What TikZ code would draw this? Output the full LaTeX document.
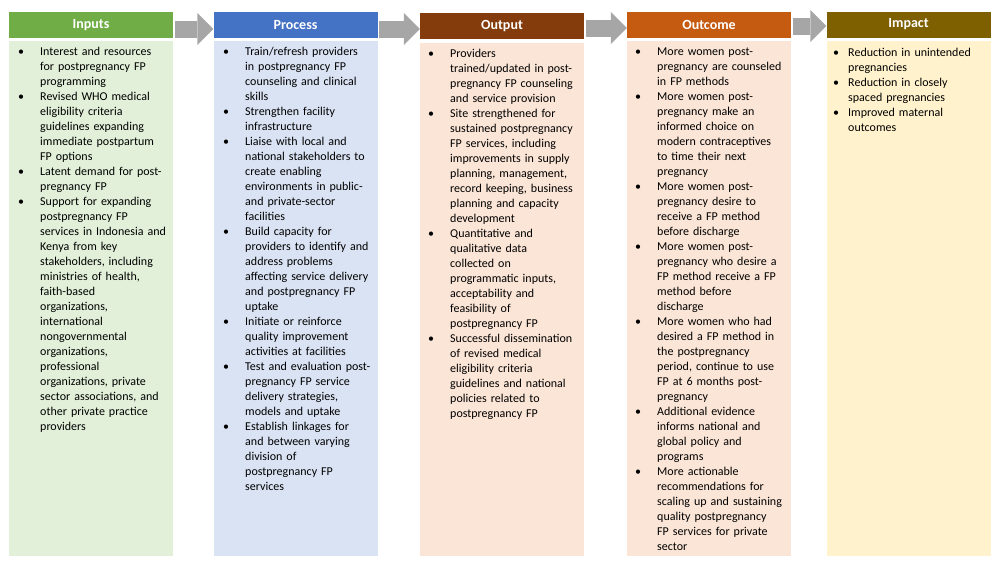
\documentclass[tikz,border=0pt]{standalone}
\usepackage{fontspec}
\setmainfont{Carlito}
\usetikzlibrary{arrows.meta}
\definecolor{inhead}{HTML}{70AD47}
\definecolor{inbody}{HTML}{E2F0D9}
\definecolor{prohead}{HTML}{4472C4}
\definecolor{probody}{HTML}{DAE3F3}
\definecolor{outhead}{HTML}{843C0C}
\definecolor{outbody}{HTML}{FBE5D6}
\definecolor{ochead}{HTML}{C55A11}
\definecolor{imhead}{HTML}{7F6000}
\definecolor{imbody}{HTML}{FFF2CC}
\definecolor{arrgray}{HTML}{A6A6A6}
\newlength\bulind
\setlength\bulind{22pt}
\newcommand\bul[1]{\par\noindent\hangindent=\bulind\hangafter=1\hbox to\bulind{\strut\textbullet\hfil}#1\par}

\begin{document}
\begin{tikzpicture}[x=1pt,y=-1pt]%
        \useasboundingbox (0,0) rectangle (1000,566); %%
        %\draw[step=50,color=gray,very thin] (0,0) grid (1000,566);%%
        \begin{scope}[inner sep=0pt, minimum height=26pt, minimum width=164pt]
        \tikzstyle{every node}=[text=white,font=\fontsize{14}{16}\selectfont\bfseries] %%
        \node[fill=inhead] (h1) at (91,25)  {Inputs}; %%
        \node[fill=prohead] (h2) at (295.5,25)  {Process}; %%
        \node[fill=outhead] (h3) at (502,26)  {Output}; %%
        \node[fill=ochead] (h4) at (709,25)  {Outcome}; %%
        \node[fill=imhead] (h5) at (908.5,24.5)  {Impact}; %%
        \end{scope}
        \begin{scope}[inner sep=0pt, minimum height=515pt, minimum width=164pt]
        \tikzstyle{every node}=[] %%
        \node[fill=inbody] (b1) at (91,298.5)  {}; %%
        \node[fill=probody] (b2) at (295.5,298.5)  {}; %%
        \node[fill=outbody,minimum height=513pt] (b3) at (502,299.5)  {}; %%
        \node[fill=outbody] (b4) at (709,298.5)  {}; %%
        \node[fill=imbody] (b5) at (908.5,298.5)  {}; %%
        \end{scope}
        \begin{scope}[inner sep=0pt]
        \tikzstyle{every node}=[anchor=north west,text width=158pt,align=left,font=\fontsize{12}{15}\selectfont] %%
        \node (t1) at (18,40)  {%
          \bul{Interest and resources\newline for postpregnancy FP\newline programming}%
          \bul{Revised WHO medical\newline eligibility criteria\newline guidelines expanding\newline immediate postpartum\newline FP options}%
          \bul{Latent demand for post-\newline pregnancy FP}%
          \bul{Support for expanding\newline postpregnancy FP\newline services in Indonesia and\newline Kenya from key\newline stakeholders, including\newline ministries of health,\newline faith-based\newline organizations,\newline international\newline nongovernmental\newline organizations,\newline professional\newline organizations, private\newline sector associations, and\newline other private practice\newline providers}}; %%
        \node (t2) at (223,40)  {%
          \bul{Train/refresh providers\newline in postpregnancy FP\newline counseling and clinical\newline skills}%
          \bul{Strengthen facility\newline infrastructure}%
          \bul{Liaise with local and\newline national stakeholders to\newline create enabling\newline environments in public-\newline and private-sector\newline facilities}%
          \bul{Build capacity for\newline providers to identify and\newline address problems\newline affecting service delivery\newline and postpregnancy FP\newline uptake}%
          \bul{Initiate or reinforce\newline quality improvement\newline activities at facilities}%
          \bul{Test and evaluation post-\newline pregnancy FP service\newline delivery strategies,\newline models and uptake}%
          \bul{Establish linkages for\newline and between varying\newline division of\newline postpregnancy FP\newline services}}; %%
        \node (t3) at (428,42)  {%
          \bul{Providers\newline trained/updated in post-\newline pregnancy FP counseling\newline and service provision}%
          \bul{Site strengthened for\newline sustained postpregnancy\newline FP services, including\newline improvements in supply\newline planning, management,\newline record keeping, business\newline planning and capacity\newline development}%
          \bul{Quantitative and\newline qualitative data\newline collected on\newline programmatic inputs,\newline acceptability and\newline feasibility of\newline postpregnancy FP}%
          \bul{Successful dissemination\newline of revised medical\newline eligibility criteria\newline guidelines and national\newline policies related to\newline postpregnancy FP}}; %%
        \node (t4) at (635,40)  {%
          \bul{More women post-\newline pregnancy are counseled\newline in FP methods}%
          \bul{More women post-\newline pregnancy make an\newline informed choice on\newline modern contraceptives\newline to time their next\newline pregnancy}%
          \bul{More women post-\newline pregnancy desire to\newline receive a FP method\newline before discharge}%
          \bul{More women post-\newline pregnancy who desire a\newline FP method receive a FP\newline method before\newline discharge}%
          \bul{More women who had\newline desired a FP method in\newline the postpregnancy\newline period, continue to use\newline FP at 6 months post-\newline pregnancy}%
          \bul{Additional evidence\newline informs national and\newline global policy and\newline programs}%
          \bul{More actionable\newline recommendations for\newline scaling up and sustaining\newline quality postpregnancy\newline FP services for private\newline sector}}; %%
        \node (t5) at (833,41)  {\setlength\bulind{15pt}%
          \bul{Reduction in unintended\newline pregnancies}%
          \bul{Reduction in closely\newline spaced pregnancies}%
          \bul{Improved maternal\newline outcomes}}; %%
        \end{scope}
        \tikzstyle{arr}=[draw=arrgray,line width=17pt,shorten <=1.5pt,-{Triangle[length=16pt,width=32pt,line width=0pt]},arrgray] %%
        \draw[arr] ([yshift=-4pt]h1.east) -- ([yshift=-4pt]h1.east -| h2.west); %%
        \draw[arr] ([yshift=-4pt]h2.east) -- ([yshift=-4pt]h2.east -| h3.west); %%
        \draw[arr] ([yshift=-2pt]h3.east) -- ([yshift=-2pt]h3.east -| h4.west); %%
        \draw[arr] ([yshift=-1pt]h4.east) -- ([yshift=-1pt]h4.east -| h5.west); %%
\end{tikzpicture}
\end{document}
